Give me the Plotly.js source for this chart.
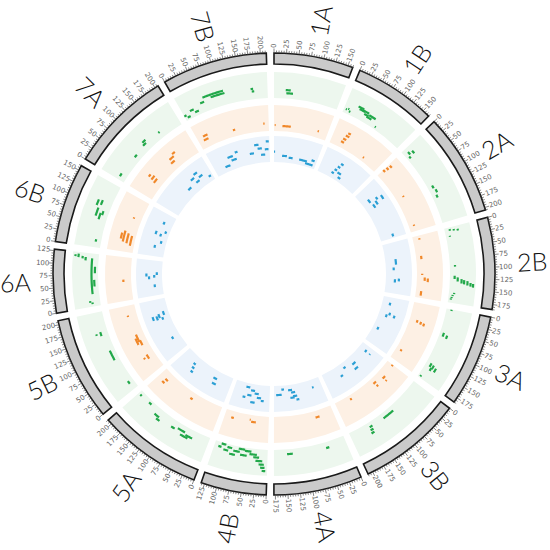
<!DOCTYPE html>
<html><head><meta charset="utf-8">
<script src="https://cdn.plot.ly/plotly-3.0.1.min.js"></script>
<style>html,body{margin:0;padding:0;background:#fff;}</style>
</head><body>
<div id="chart" style="width:550px;height:550px;"></div>
<script>
// ---------------- data ----------------
const chromNames   = ['1A','1B','2A','2B','3A','3B','4A','4B','5A','5B','6A','6B','7A','7B'];
const chromLengths = [160, 165, 205, 185, 185, 210, 178, 132, 210, 208, 128, 160, 207, 212];
const majorTickStep = 25;
const minorTickStep = 5;

// features: [chromosome, start, end, value (0..1)]
const greenFeatures = [
 ['1A',28,40,0.32],['1A',30,46,0.2],
 ['1B',5,8,0.15],['1B',10,13,0.2],['1B',14,18,0.12],['1B',30,45,0.45],['1B',35,50,0.38],['1B',45,60,0.4],['1B',50,62,0.3],['1B',58,72,0.25],['1B',62,80,0.35],['1B',88,91,0.1],
 ['2A',10,18,0.2],['2A',14,22,0.35],['2A',20,26,0.12],['2A',110,118,0.2],['2A',122,130,0.25],['2A',135,142,0.18],
 ['2B',4,8,0.2],['2B',6,10,0.35],['2B',8,12,0.5],['2B',20,22,0.15],['2B',92,96,0.2],['2B',118,126,0.18],['2B',122,132,0.3],['2B',126,136,0.45],['2B',128,138,0.55],['2B',130,140,0.68],['2B',134,142,0.8],['2B',136,144,0.9],['2B',160,163,0.2],['2B',165,168,0.15],['2B',170,173,0.12],['2B',174,177,0.1],
 ['3A',1,4,0.2],['3A',60,70,0.15],['3A',64,72,0.3],['3A',140,150,0.2],['3A',142,152,0.32],['3A',146,156,0.45],['3A',150,158,0.28],['3A',178,182,0.1],
 ['3B',88,118,0.2],['3B',150,158,0.18],['3B',152,160,0.3],['3B',154,162,0.42],
 ['4A',42,50,0.22],['4A',132,146,0.18],
 ['4B',4,12,0.82],['4B',6,16,0.7],['4B',8,20,0.58],['4B',12,28,0.45],['4B',20,34,0.32],['4B',26,44,0.22],['4B',40,56,0.12],['4B',50,66,0.3],['4B',56,72,0.08],['4B',68,84,0.2],['4B',78,92,0.35],['4B',88,100,0.12],['4B',96,108,0.25],['4B',104,116,0.05],['4B',114,122,0.18],
 ['5A',40,58,0.3],['5A',50,70,0.38],['5A',62,82,0.22],['5A',88,98,0.3],['5A',128,138,0.4],['5A',134,148,0.3],['5A',168,176,0.12],['5A',200,205,0.15],
 ['5B',16,24,0.2],['5B',84,110,0.2],['5B',150,160,0.28],['5B',154,158,0.45],
 ['6A',6,10,0.3],['6A',10,14,0.38],['6A',30,116,0.25],['6A',48,64,0.15],['6A',80,96,0.12],['6A',110,118,0.5],['6A',114,120,0.62],['6A',116,124,0.78],['6A',118,122,0.9],
 ['6B',14,20,0.2],['6B',68,84,0.3],['6B',74,94,0.45],['6B',80,90,0.22],['6B',98,112,0.55],['6B',102,114,0.4],
 ['7A',8,16,0.25],['7A',66,74,0.22],['7A',100,110,0.28],['7A',104,114,0.38],['7A',148,152,0.25],
 ['7B',0,6,0.2],['7B',6,14,0.1],['7B',18,28,0.28],['7B',28,38,0.15],['7B',48,58,0.38],['7B',58,108,0.55],['7B',76,110,0.45],['7B',172,178,0.4],['7B',174,180,0.3]
];
const orangeFeatures = [
 ['1A',2,5,0.23],['1A',25,50,0.2],['1A',130,134,0.25],
 ['1B',30,40,0.22],['1B',32,42,0.35],['1B',35,46,0.5],['1B',38,46,0.62],['1B',110,114,0.15],
 ['2A',0,8,0.3],['2A',2,10,0.45],['2A',4,12,0.6],['2A',95,99,0.3],['2A',185,189,0.2],
 ['2B',8,12,0.25],['2B',60,70,0.2],['2B',113,117,0.2],['2B',124,134,0.3],['2B',127,137,0.42],['2B',165,178,0.2],
 ['3A',50,58,0.3],['3A',52,60,0.45],['3A',54,62,0.58],['3A',148,154,0.2],
 ['3B',0,5,0.25],['3B',40,50,0.3],['3B',45,49,0.45],['3B',70,80,0.2],['3B',72,78,0.35],['3B',158,164,0.15],
 ['4A',42,54,0.25],
 ['4B',38,52,0.25],['4B',54,57,0.18],['4B',104,112,0.25],
 ['5A',90,98,0.25],['5A',180,190,0.3],['5A',183,192,0.45],
 ['5B',40,54,0.3],['5B',45,50,0.45],['5B',84,100,0.25],['5B',90,110,0.38],['5B',96,120,0.3],['5B',176,180,0.35],
 ['6A',55,62,0.3],
 ['6B',20,50,0.15],['6B',25,55,0.3],['6B',28,60,0.45],['6B',35,52,0.55],['6B',100,104,0.3],
 ['7A',45,60,0.3],['7A',48,62,0.45],['7A',50,58,0.6],['7A',120,134,0.3],['7A',124,140,0.45],['7A',140,150,0.55],
 ['7B',15,30,0.3],['7B',18,32,0.45],['7B',105,112,0.25],['7B',196,200,0.3]
];
const blueFeatures = [
 ['1A',0,4,0.4],['1A',30,48,0.25],['1A',55,70,0.2],['1A',95,125,0.2],['1A',120,150,0.12],['1A',140,152,0.3],
 ['1B',50,60,0.2],['1B',55,65,0.35],['1B',60,70,0.5],['1B',65,75,0.65],['1B',70,85,0.3],['1B',80,92,0.15],
 ['2A',40,55,0.3],['2A',50,60,0.6],['2A',55,70,0.8],['2A',60,75,0.5],['2A',65,80,0.35],['2A',190,200,0.5],
 ['2B',60,80,0.4],['2B',90,100,0.3],['2B',130,140,0.5],['2B',133,145,0.35],
 ['3A',20,30,0.3],['3A',55,65,0.4],['3A',60,70,0.6],['3A',65,75,0.3],['3A',120,130,0.2],
 ['3B',15,25,0.3],['3B',18,22,0.5],['3B',75,90,0.3],['3B',80,95,0.5],['3B',115,125,0.2],['3B',140,150,0.4],
 ['4A',30,36,0.3],['4A',90,100,0.6],['4A',95,110,0.45],['4A',100,115,0.3],['4A',105,120,0.5],['4A',110,125,0.2],['4A',140,150,0.15],['4A',150,170,0.35],
 ['4B',20,30,0.6],['4B',30,45,0.5],['4B',40,55,0.35],['4B',50,65,0.7],['4B',55,70,0.25],['4B',65,80,0.45],['4B',75,90,0.15],['4B',85,95,0.55],
 ['5A',50,65,0.5],['5A',55,70,0.3],['5A',140,150,0.6],['5A',145,155,0.45],['5A',150,160,0.3],
 ['5B',50,60,0.3],['5B',130,140,0.3],['5B',135,150,0.5],['5B',138,152,0.65],['5B',140,155,0.4],['5B',145,160,0.2],
 ['6A',30,40,0.3],['6A',60,70,0.5],['6A',65,75,0.3],['6A',70,80,0.6],['6A',75,85,0.2],
 ['6B',30,40,0.4],['6B',50,60,0.2],['6B',75,85,0.3],['6B',78,90,0.5],['6B',90,100,0.15],['6B',120,130,0.35],
 ['7A',100,115,0.3],['7A',130,145,0.5],['7A',140,155,0.3],['7A',150,165,0.6],['7A',160,175,0.4],['7A',190,200,0.2],
 ['7B',40,60,0.2],['7B',60,80,0.5],['7B',70,90,0.35],['7B',90,100,0.6],['7B',140,155,0.4],['7B',160,175,0.7],['7B',170,185,0.55],['7B',180,195,0.3],['7B',195,208,0.5],['7B',200,210,0.8]
];

// ---------------- layout geometry ----------------
const RMAX = 274;            // radial range == polar radius in px
const GAP = 2;               // degrees between chromosomes
const START = 0;             // angle of 1A start
const IDEO_IN = 210, IDEO_OUT = 221;
const tracks = [
  {features: greenFeatures,  r0: 176, r1: 202, bg: '#edf7ee', color: '#22a84a'},
  {features: orangeFeatures, r0: 143, r1: 169, bg: '#fdf0e4', color: '#f0882a'},
  {features: blueFeatures,   r0: 112, r1: 138, bg: '#ecf3fb', color: '#2b9fd4'}
];

const totalLen = chromLengths.reduce((a,b)=>a+b,0);
const scale = (360 - GAP*chromNames.length) / totalLen;
const starts = [];
{ let acc = START; chromLengths.forEach(L => { starts.push(acc); acc += L*scale + GAP; }); }
const thetaOf = (c, p) => starts[chromNames.indexOf(c)] + p*scale;

const traces = [];

// track backgrounds
{
  const th=[], w=[], base=[], r=[], col=[];
  tracks.forEach(t => chromNames.forEach((c,i) => {
    th.push(starts[i] + chromLengths[i]*scale/2); w.push(chromLengths[i]*scale);
    base.push(t.r0); r.push(t.r1 - t.r0); col.push(t.bg);
  }));
  traces.push({type:'barpolar', theta:th, width:w, base:base, r:r,
    marker:{color:col, line:{width:0}}, hoverinfo:'skip', showlegend:false});
}

// ideogram
traces.push({type:'barpolar',
  theta: chromNames.map((c,i)=>starts[i] + chromLengths[i]*scale/2),
  width: chromLengths.map(L=>L*scale),
  base: chromNames.map(()=>IDEO_IN),
  r: chromNames.map(()=>IDEO_OUT-IDEO_IN),
  marker:{color:'#cacaca', line:{color:'#1a1a1a', width:1.6}},
  hoverinfo:'skip', showlegend:false});

// ticks
{
  const tr=[], tt=[];
  chromNames.forEach((c,i) => {
    for (let p=0; p<=chromLengths[i]; p+=minorTickStep) {
      const th = thetaOf(c,p);
      const len = (p % majorTickStep === 0) ? 4.5 : 2.5;
      tr.push(IDEO_OUT, IDEO_OUT+len, null); tt.push(th, th, null);
    }
  });
  traces.push({type:'scatterpolar', mode:'lines', r:tr, theta:tt,
    line:{color:'#555', width:0.7}, hoverinfo:'skip', showlegend:false});
}

// feature arcs
tracks.forEach(t => {
  const rr=[], tt=[];
  t.features.forEach(f => {
    const [c,a,b,v] = f;
    const r = t.r0 + v*(t.r1 - t.r0);
    const t0 = thetaOf(c,a), t1 = thetaOf(c, Math.max(b, a+2.5));
    const n = Math.max(2, Math.ceil((t1-t0)/0.3)+1);
    for (let k=0;k<n;k++){ rr.push(r); tt.push(t0 + (t1-t0)*k/(n-1)); }
    rr.push(null); tt.push(null);
  });
  traces.push({type:'scatterpolar', mode:'lines', r:rr, theta:tt, connectgaps:false,
    line:{color:t.color, width:2.2}, hoverinfo:'skip', showlegend:false});
});

// ---------------- labels ----------------
function toPaper(r, th){
  const rad = th*Math.PI/180;
  return {x: 0.5 + r*Math.sin(rad)/(2*RMAX), y: 0.5 + r*Math.cos(rad)/(2*RMAX)};
}
function radialAngle(th){
  th = ((th%360)+360)%360;
  return th < 180 ? th - 90 : th - 270;
}
const annotations = [];
chromNames.forEach((c,i) => {
  for (let p=0; p<=chromLengths[i]; p+=majorTickStep) {
    const th = thetaOf(c,p);
    const txt = String(p);
    const w = txt.length*0.58*7;
    const pos = toPaper(IDEO_OUT + 5 + w/2, th);
    annotations.push({xref:'paper', yref:'paper', x:pos.x, y:pos.y, text:txt, showarrow:false,
      xanchor:'center', yanchor:'middle', textangle:radialAngle(th),
      font:{family:'DejaVu Sans', size:7, color:'#666'}});
  }
  const mid = starts[i] + chromLengths[i]*scale/2;
  const pos = toPaper(258, mid);
  annotations.push({xref:'paper', yref:'paper', x:pos.x, y:pos.y, text:c, showarrow:false,
    xanchor:'center', yanchor:'middle', textangle:radialAngle(mid),
    font:{family:'Lato', size:25, weight:300, color:'#111'}});
});

const layout = {
  width:550, height:550,
  margin:{l:0, r:2, t:0, b:2},
  paper_bgcolor:'#fff', plot_bgcolor:'#fff',
  showlegend:false,
  polar:{
    domain:{x:[0,1], y:[0,1]},
    bgcolor:'rgba(0,0,0,0)',
    barmode:'overlay',
    hole:0,
    radialaxis:{range:[0,RMAX], visible:false, showgrid:false, showline:false, showticklabels:false, ticks:''},
    angularaxis:{rotation:90, direction:'clockwise', visible:false, showgrid:false, showline:false, showticklabels:false, ticks:''}
  },
  annotations: annotations
};

Plotly.newPlot('chart', traces, layout, {staticPlot:true, displayModeBar:false});
</script>
</body></html>
